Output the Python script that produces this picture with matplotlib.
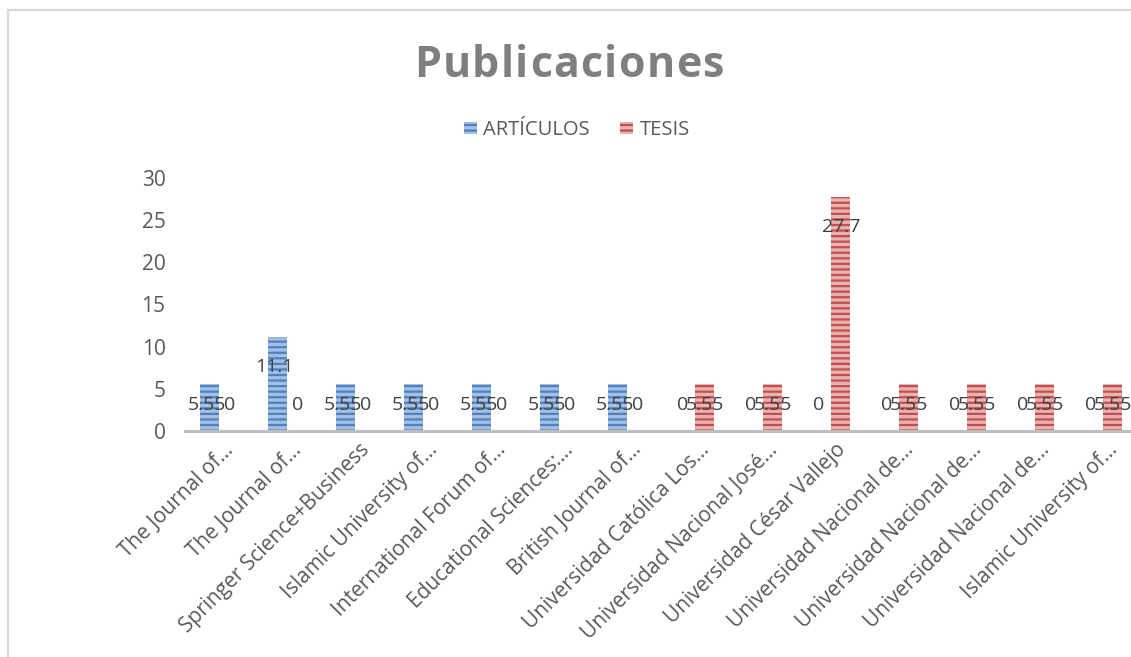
import numpy as np
import matplotlib
matplotlib.use('Agg')
import matplotlib.pyplot as plt
from matplotlib.patches import Patch, Rectangle

# Datos
categorias = ['The Journal of…', 'The Journal of…', 'Springer Science+Business',
              'Islamic University of…', 'International Forum of…',
              'Educational Sciences:…', 'British Journal of…',
              'Universidad Católica Los…', 'Universidad Nacional José…',
              'Universidad César Vallejo', 'Universidad Nacional de…',
              'Universidad Nacional de…', 'Universidad Nacional de…',
              'Islamic University of…']
articulos = [5.55, 11.1, 5.55, 5.55, 5.55, 5.55, 5.55, 0, 0, 0, 0, 0, 0, 0]
tesis = [0, 0, 0, 0, 0, 0, 0, 5.55, 5.55, 27.7, 5.55, 5.55, 5.55, 5.55]
series = ['ARTÍCULOS', 'TESIS']
titulo = 'Publicaciones'

plt.rcParams['font.family'] = ['Open Sans', 'DejaVu Sans']
plt.rcParams['hatch.linewidth'] = 1.6

W, H = 1131, 657
fig = plt.figure(figsize=(W / 100, H / 100), dpi=100)

# marco del grafico
fig.patches.append(Rectangle((8 / W, -0.1), 1.2, 1 - 10 / H + 0.1, transform=fig.transFigure,
                             fill=False, edgecolor='#d9d9d9', lw=1.6))

ax = fig.add_axes([185 / W, (H - 431) / H, 952 / W, 253 / H])

x = np.arange(len(categorias))
w = 0.28
azul_claro, azul = '#a3bfe4', '#4f81bd'
rojo_claro, rojo = '#e8b2b1', '#c0504d'

ax.bar(x - w / 2, articulos, w, color=azul_claro, edgecolor=azul, hatch='---', lw=0)
ax.bar(x + w / 2, tesis, w, color=rojo_claro, edgecolor=rojo, hatch='---', lw=0)

# etiquetas de datos
for vals, off, dx in [(articulos, -w / 2, -2), (tesis, w / 2, 0.5)]:
    for i, v in enumerate(vals):
        yy = max(v - 3.5, 3.1)
        ax.annotate('{:g}'.format(v), (i + off, yy), xytext=(dx, 0), textcoords='offset points',
                    ha='center', va='center', fontsize=14, color='#404040')

ax.set_xlim(-0.5, len(categorias) - 0.5)
ax.set_ylim(0, 30)
ax.set_yticks(range(0, 31, 5))
for s in ['top', 'right', 'left']:
    ax.spines[s].set_visible(False)
ax.spines['bottom'].set_color('#bfbfbf')
ax.spines['bottom'].set_linewidth(2.2)
ax.tick_params(axis='y', length=0, pad=14, labelsize=15, labelcolor='#595959')
ax.tick_params(axis='x', length=0)
ax.set_xticks(x)
ax.set_xticklabels([])
for i, c in enumerate(categorias):
    ax.annotate(c, (i, 0), xytext=(3, -6), textcoords='offset points',
                ha='right', va='top', rotation=45, rotation_mode='anchor',
                fontsize=15, color='#595959', annotation_clip=False)

# titulo con espaciado entre letras
renderer = fig.canvas.get_renderer()
anchos = []
for ch in titulo:
    t = fig.text(0, 0, ch, fontsize=31, fontweight='bold')
    anchos.append(t.get_window_extent(renderer).width)
    t.remove()
total = 310
extra = (total - sum(anchos)) / (len(titulo) - 1)
xpos = 414
for ch, a in zip(titulo, anchos):
    fig.text(xpos / W, 1 - 77 / H, ch, fontsize=31, fontweight='bold',
             color='#7f7f7f', ha='left', va='baseline')
    xpos += a + extra

handles = [Patch(facecolor=azul_claro, edgecolor=azul, hatch='---', lw=0),
           Patch(facecolor=rojo_claro, edgecolor=rojo, hatch='---', lw=0)]
fig.legend(handles, series, loc='center', bbox_to_anchor=(577 / W, 1 - 130 / H),
           ncol=2, frameon=False, fontsize=14.5, labelcolor='#595959',
           handlelength=0.65, handleheight=0.6, handletextpad=0.3, columnspacing=1.5)

fig.savefig('out.png', dpi=100)
